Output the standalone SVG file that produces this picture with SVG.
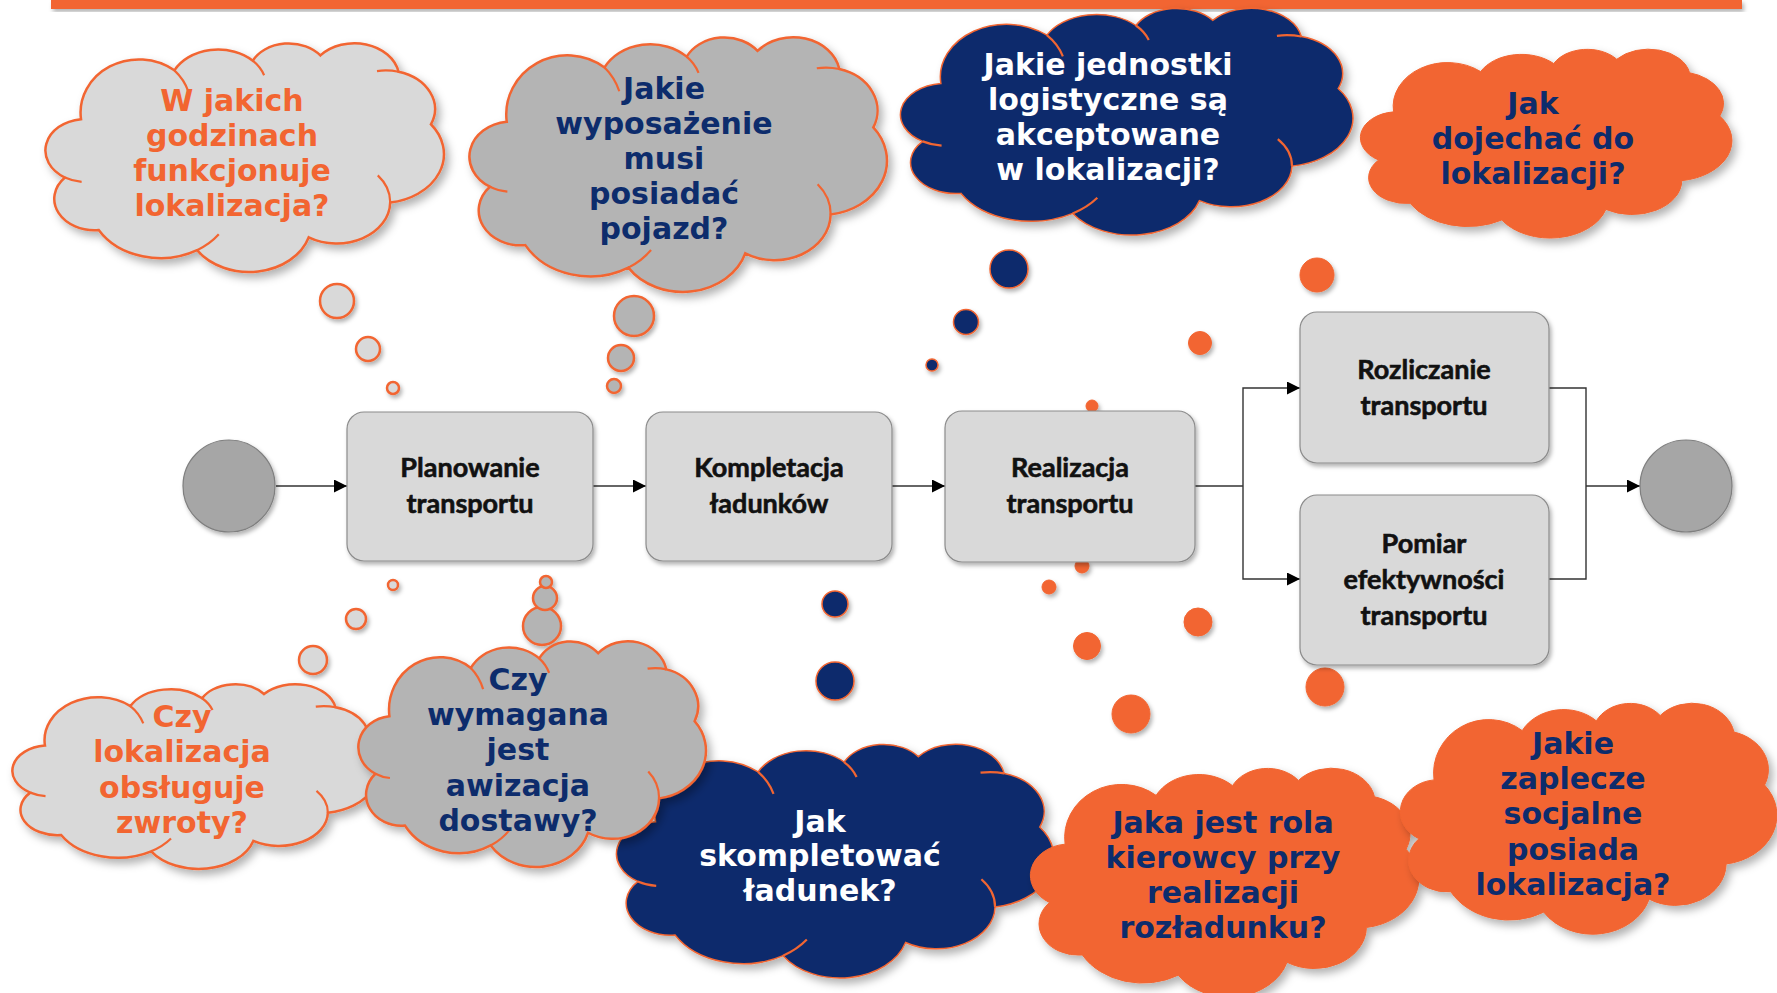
<svg xmlns="http://www.w3.org/2000/svg" xmlns:xlink="http://www.w3.org/1999/xlink" width="1777" height="993" viewBox="0 0 1777 993">
<style>
.q{font-family:"DejaVu Sans","Liberation Sans",sans-serif;font-weight:bold;font-size:30px;text-anchor:middle}
.qo{fill:#F26531}
.qn{fill:#0D2C6C}
.qw{fill:#FFFFFF}
.bt{font-family:Lato,"Liberation Sans",sans-serif;font-weight:bold;font-size:27px;text-anchor:middle;fill:#111;stroke:#111;stroke-width:0.6}
.cLight{fill:#D9D9D9;stroke:#F26531;stroke-width:2.5}
.cDark{fill:#B4B4B4;stroke:#F26531;stroke-width:2.5}
.cNavy{fill:#0D2C6C;stroke:#F26531;stroke-width:1.5}
.cOr{fill:#F26531;stroke:#F26531;stroke-width:1}
.inner{fill:none;stroke:#F26531;stroke-width:2.2}
.box{fill:#D9D9D9;stroke:#8C8C8C;stroke-width:1.2}
.ev{fill:#A6A6A6;stroke:#7F7F7F;stroke-width:1.2}
.ln{fill:none;stroke:#333;stroke-width:1.4}
</style>
<defs>
<filter id="sh" x="-15%" y="-15%" width="135%" height="140%">
<feDropShadow dx="4" dy="5" stdDeviation="4" flood-color="#000" flood-opacity="0.3"/>
</filter>
<filter id="shs" x="-20%" y="-20%" width="150%" height="150%">
<feDropShadow dx="2" dy="3" stdDeviation="2" flood-color="#000" flood-opacity="0.3"/>
</filter>
<marker id="ah" viewBox="0 0 10 10" refX="10" refY="5" markerWidth="14" markerHeight="13" markerUnits="userSpaceOnUse" orient="auto">
<path d="M0,0 L10,5 L0,10 Z" fill="#000"/>
</marker>
<path id="cl" vector-effect="non-scaling-stroke" d="M19.50,71.85 A21.72 29.72 0 0 0 10.80 126.90 A21.80 29.59 0 0 0 29.10 176.40 A38.60 52.71 0 0 0 82.35 195.45 A33.76 46.07 0 0 0 142.80 183.30 A28.92 39.33 0 0 0 186.90 150.45 A33.87 46.10 0 0 0 208.95 76.65 A26.66 36.36 0 0 0 191.40 27.15 A24.28 32.97 0 0 0 149.10 11.70 A21.82 29.72 0 0 0 112.50 16.65 A26.66 36.33 0 0 0 70.05 25.80 A31.60 50.13 0 0 0 19.50 71.85 Z"/>
<path id="ci" vector-effect="non-scaling-stroke" d="M10.80,126.90 A21.72 29.72 0 0 0 19.83 130.98 M186.90,150.45 A28.92 39.33 0 0 0 180.17 124.85 M82.35,195.45 A38.60 52.71 0 0 0 94.09 180.51 M191.40,27.15 A26.66 36.36 0 0 0 179.75 26.47 M112.50,16.65 A26.66 36.33 0 0 1 118.63 30.40 M70.05,25.80 A31.60 50.13 0 0 1 77.67 45.98"/>
</defs>

<rect x="0" y="0" width="1777" height="993" fill="#FFFFFF"/>
<rect id="topbar" x="51" y="0" width="1691" height="9" fill="#F26531" filter="url(#shs)"/>

<!-- thought bubbles -->
<g id="bubbles" filter="url(#shs)">
<circle cx="337" cy="301" r="17" class="cLight"/>
<circle cx="368" cy="349" r="12" class="cLight"/>
<circle cx="393" cy="388" r="6" class="cLight"/>
<circle cx="634" cy="316" r="20" class="cDark"/>
<circle cx="621" cy="358" r="13" class="cDark"/>
<circle cx="614" cy="386" r="7" class="cDark"/>
<circle cx="393" cy="585" r="5" class="cLight"/>
<circle cx="356" cy="619" r="10" class="cLight"/>
<circle cx="313" cy="660" r="14" class="cLight"/>
<circle cx="542" cy="626" r="19" class="cDark"/>
<circle cx="545" cy="598" r="12" class="cDark"/>
<circle cx="546" cy="582" r="6" class="cDark"/>
<circle cx="1009" cy="269" r="19" class="cNavy"/>
<circle cx="966" cy="322" r="12.5" class="cNavy"/>
<circle cx="932" cy="365" r="6" class="cNavy"/>
<circle cx="835" cy="604" r="13" class="cNavy"/>
<circle cx="835" cy="681" r="19" class="cNavy"/>
<circle cx="1317" cy="275" r="17" class="cOr"/>
<circle cx="1200" cy="343" r="11.5" class="cOr"/>
<circle cx="1092" cy="406" r="6" class="cOr"/>
<circle cx="1082" cy="566" r="7" class="cOr"/>
<circle cx="1087" cy="646" r="13.5" class="cOr"/>
<circle cx="1131" cy="714" r="19" class="cOr"/>
<circle cx="1049" cy="587" r="7" class="cOr"/>
<circle cx="1198" cy="622" r="14" class="cOr"/>
<circle cx="1325" cy="687" r="19" class="cOr"/>
</g>

<!-- connectors -->
<g id="connectors">
<path class="ln" d="M276,486 H347" marker-end="url(#ah)"/>
<path class="ln" d="M593,486 H646" marker-end="url(#ah)"/>
<path class="ln" d="M892,486 H945" marker-end="url(#ah)"/>
<path class="ln" d="M1195,486 H1243"/>
<path class="ln" d="M1243,486 V388 H1300" marker-end="url(#ah)"/>
<path class="ln" d="M1243,486 V579 H1300" marker-end="url(#ah)"/>
<path class="ln" d="M1549,388 H1586 V579 H1549"/>
<path class="ln" d="M1586,486 H1640" marker-end="url(#ah)"/>
</g>

<!-- process nodes -->
<g id="start"><circle cx="229" cy="486" r="46" class="ev" filter="url(#shs)"/></g>
<g id="end"><circle cx="1686" cy="486" r="46" class="ev" filter="url(#shs)"/></g>
<g id="planowanie">
<rect x="347" y="412" width="246" height="149" rx="17" class="box" filter="url(#shs)"/>
<text class="bt" x="470" y="477">Planowanie</text>
<text class="bt" x="470" y="513">transportu</text>
</g>
<g id="kompletacja">
<rect x="646" y="412" width="246" height="149" rx="17" class="box" filter="url(#shs)"/>
<text class="bt" x="769" y="477">Kompletacja</text>
<text class="bt" x="769" y="513">ładunków</text>
</g>
<g id="realizacja">
<rect x="945" y="411" width="250" height="151" rx="17" class="box" filter="url(#shs)"/>
<text class="bt" x="1070" y="477">Realizacja</text>
<text class="bt" x="1070" y="513">transportu</text>
</g>
<g id="rozliczanie">
<rect x="1300" y="312" width="249" height="151" rx="17" class="box" filter="url(#shs)"/>
<text class="bt" x="1424" y="379">Rozliczanie</text>
<text class="bt" x="1424" y="415">transportu</text>
</g>
<g id="pomiar">
<rect x="1300" y="495" width="249" height="170" rx="17" class="box" filter="url(#shs)"/>
<text class="bt" x="1424" y="553">Pomiar</text>
<text class="bt" x="1424" y="589">efektywności</text>
<text class="bt" x="1424" y="625">transportu</text>
</g>

<!-- clouds -->
<g id="cloud-godziny">
<g filter="url(#sh)"><g transform="translate(45,43) scale(1.847,1.060)" class="cLight"><use href="#cl"/><use href="#ci" class="inner"/></g></g>
<text class="q qo" x="232" y="111">W jakich</text>
<text class="q qo" x="232" y="146">godzinach</text>
<text class="q qo" x="232" y="181">funkcjonuje</text>
<text class="q qo" x="232" y="216">lokalizacja?</text>
</g>
<g id="cloud-wyposazenie">
<g filter="url(#sh)"><g transform="translate(469,37) scale(1.935,1.180)" class="cDark"><use href="#cl"/><use href="#ci" class="inner"/></g></g>
<text class="q qn" x="664" y="99">Jakie</text>
<text class="q qn" x="664" y="134">wyposażenie</text>
<text class="q qn" x="664" y="169">musi</text>
<text class="q qn" x="664" y="204">posiadać</text>
<text class="q qn" x="664" y="239">pojazd?</text>
</g>
<g id="cloud-jednostki">
<g filter="url(#sh)"><g transform="translate(900,8) scale(2.097,1.051)" class="cNavy"><use href="#cl"/><use href="#ci" class="inner"/></g></g>
<text class="q qw" x="1108" y="75">Jakie jednostki</text>
<text class="q qw" x="1108" y="110">logistyczne są</text>
<text class="q qw" x="1108" y="145">akceptowane</text>
<text class="q qw" x="1108" y="180">w lokalizacji?</text>
</g>
<g id="cloud-dojazd">
<g filter="url(#sh)"><g transform="translate(1360,49) scale(1.722,0.875)" class="cOr"><use href="#cl"/></g></g>
<text class="q qn" x="1533" y="114">Jak</text>
<text class="q qn" x="1533" y="149">dojechać do</text>
<text class="q qn" x="1533" y="184">lokalizacji?</text>
</g>
<g id="cloud-zwroty">
<g filter="url(#sh)"><g transform="translate(12,684) scale(1.690,0.856)" class="cLight"><use href="#cl"/><use href="#ci" class="inner"/></g></g>
<text class="q qo" x="182" y="727">Czy</text>
<text class="q qo" x="182" y="762">lokalizacja</text>
<text class="q qo" x="182" y="798">obsługuje</text>
<text class="q qo" x="182" y="833">zwroty?</text>
</g>
<g id="cloud-kompletowac">
<g filter="url(#sh)"><g transform="translate(616,744) scale(2.028,1.083)" class="cNavy"><use href="#cl"/><use href="#ci" class="inner"/></g></g>
<text class="q qw" x="820" y="832">Jak</text>
<text class="q qw" x="820" y="866">skompletować</text>
<text class="q qw" x="820" y="901">ładunek?</text>
</g>
<g id="cloud-awizacja">
<g filter="url(#sh)"><g transform="translate(358,641) scale(1.611,1.046)" class="cDark"><use href="#cl"/><use href="#ci" class="inner"/></g></g>
<text class="q qn" x="518" y="690">Czy</text>
<text class="q qn" x="518" y="725">wymagana</text>
<text class="q qn" x="518" y="760">jest</text>
<text class="q qn" x="518" y="796">awizacja</text>
<text class="q qn" x="518" y="831">dostawy?</text>
</g>
<g id="cloud-kierowca">
<g filter="url(#sh)"><g transform="translate(1030,768) scale(1.800,1.060)" class="cOr"><use href="#cl"/></g></g>
<text class="q qn" x="1223" y="833">Jaka jest rola</text>
<text class="q qn" x="1223" y="868">kierowcy przy</text>
<text class="q qn" x="1223" y="903">realizacji</text>
<text class="q qn" x="1223" y="938">rozładunku?</text>
</g>
<g id="cloud-zaplecze">
<g filter="url(#sh)"><g transform="translate(1400,703) scale(1.745,1.070)" class="cOr"><use href="#cl"/></g></g>
<text class="q qn" x="1573" y="754">Jakie</text>
<text class="q qn" x="1573" y="789">zaplecze</text>
<text class="q qn" x="1573" y="824">socjalne</text>
<text class="q qn" x="1573" y="860">posiada</text>
<text class="q qn" x="1573" y="895">lokalizacja?</text>
</g>
</svg>
